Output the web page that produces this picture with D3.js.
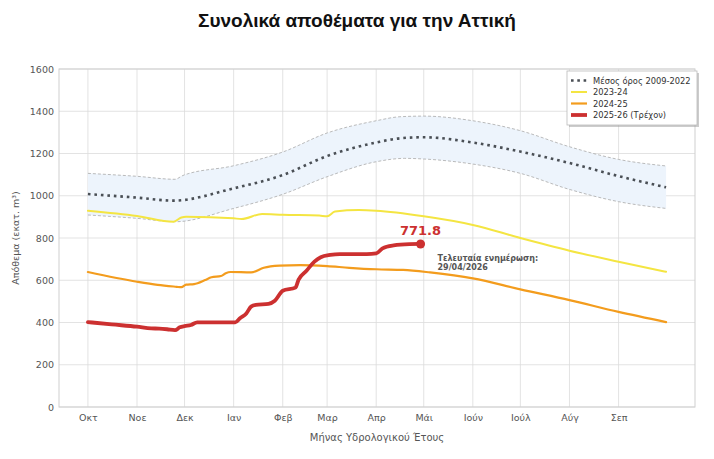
<!DOCTYPE html>
<html><head><meta charset="utf-8">
<script src="https://cdn.jsdelivr.net/npm/d3@7"></script>
<style>body{margin:0;background:#fff}svg{display:block}</style>
</head><body>
<svg id="c" width="714" height="459"></svg>
<script>
// Month ticks (day of hydrological year, starting 1 Oct)
const monthDays = [0,31,61,92,123,151,182,212,243,273,304,335];
const monthLabels = ["Οκτ","Νοε","Δεκ","Ιαν","Φεβ","Μαρ","Απρ","Μάι","Ιούν","Ιούλ","Αύγ","Σεπ"];
const yTicks = [0,200,400,600,800,1000,1200,1400,1600];

// Mean 2009-2022 and band
const meanDays = [0,31,54,92,123,151,182,197,212,243,273,304,335,365];
const meanVals = [1008,991,977,1035,1098,1188,1252,1272,1277,1252,1209,1155,1093,1040];
const upperDays = [0,31,55,60,92,123,151,182,197,212,243,273,304,335,365];
const upperVals = [1106,1092,1078,1096,1142,1207,1297,1355,1374,1377,1355,1308,1232,1172,1141];
const lowerDays = [0,31,55,92,123,151,182,200,212,243,273,304,335,365];
const lowerVals = [909,893,877,940,1007,1090,1161,1177,1174,1150,1106,1030,972,940];

// 2023-24
const y2324Days = [0,31,54,59,62,92,97,110,123,146,151,156,171,182,212,243,273,304,335,365];
const y2324Vals = [929,904,877,897,901,893,890,914,910,906,903,925,932,929,903,862,800,740,688,640];

// 2024-25
const y2425Days = [0,31,44,56,59,62,67,74,78,84,87,90,103,111,121,134,151,165,182,199,216,243,273,304,335,365];
const y2425Vals = [639,593,578,569,567,579,582,601,614,620,633,639,637,659,669,672,667,659,652,649,637,609,557,506,450,402];

// 2025-26 (current)
const y2526Days = [0,15,31,40,45,50,55,58,61,65,69,93,96,100,103,106,114,118,123,131,133,138,143,147,153,159,176,182,186,193,203,210];
const y2526Vals = [402,391,380,372,371,368,364,377,383,388,401,401,420,443,475,483,488,503,550,565,603,645,688,709,720,724,724,727,751,765,771,771.8];

const lastLabel = "771.8";
const lastUpdate = ["Τελευταία ενημέρωση:", "29/04/2026"];
const legendLabels = ["Μέσος όρος 2009-2022","2023-24","2024-25","2025-26 (Τρέχον)"];

const svg = d3.select("#c");
const font = "DejaVu Sans, sans-serif";
const L=59, R=695, T=69, B=407;
const x = d3.scaleLinear().domain([-18.25, 383.25]).range([L, R]);
const y = d3.scaleLinear().domain([0, 1600]).range([B, T]);

svg.append("rect").attr("width",714).attr("height",459).attr("fill","#fff");

// grid
const g = svg.append("g");
g.selectAll("line.v").data(monthDays).join("line")
  .attr("x1",d=>x(d)).attr("x2",d=>x(d)).attr("y1",T).attr("y2",B)
  .attr("stroke","#dcdcdc").attr("stroke-width",0.8);
g.selectAll("line.h").data(yTicks).join("line")
  .attr("y1",d=>y(d)).attr("y2",d=>y(d)).attr("x1",L).attr("x2",R)
  .attr("stroke","#dcdcdc").attr("stroke-width",0.8);

// axes via d3
const xAxis = d3.axisBottom(x).tickValues(monthDays).tickFormat((d,i)=>monthLabels[i]).tickSize(0).tickPadding(7);
const yAxis = d3.axisLeft(y).tickValues(yTicks).tickFormat(d3.format("d")).tickSize(0).tickPadding(5);
const gx = svg.append("g").attr("transform",`translate(0,${B})`).call(xAxis);
const gy = svg.append("g").attr("transform",`translate(${L},0)`).call(yAxis);
[gx,gy].forEach(a=>{a.select(".domain").remove();
  a.selectAll("text").attr("font-family",font).attr("font-size",9.5).attr("fill","#555");});

// band
const band = upperDays.map((d,i)=>({d, v:upperVals[i]}));
const lowPts = lowerDays.map((d,i)=>({d, v:lowerVals[i]}));
const upLine = d3.line().x(p=>x(p.d)).y(p=>y(p.v)).curve(d3.curveMonotoneX);
const upPath = upLine(band);
const lowRev = lowPts.slice().reverse();
const lowPath = d3.line().x(p=>x(p.d)).y(p=>y(p.v)).curve(d3.curveMonotoneX)(lowRev);
svg.append("path").attr("d", upPath + "L" + lowPath.slice(1) + "Z")
  .attr("fill","#edf4fc").attr("stroke","none");
svg.append("path").attr("d",upPath).attr("fill","none").attr("stroke","#aaa").attr("stroke-width",0.8).attr("stroke-dasharray","3,2");
svg.append("path").attr("d",d3.line().x(p=>x(p.d)).y(p=>y(p.v)).curve(d3.curveMonotoneX)(lowPts))
  .attr("fill","none").attr("stroke","#aaa").attr("stroke-width",0.8).attr("stroke-dasharray","3,2");

// mean
svg.append("path").attr("d", d3.line().x((d,i)=>x(d)).y((d,i)=>y(meanVals[i])).curve(d3.curveMonotoneX)(meanDays))
  .attr("fill","none").attr("stroke","#4a4f55").attr("stroke-width",2.6).attr("stroke-dasharray","2.6,3.9");

function series(days, vals, color, w){
  svg.append("path").attr("d", d3.line().x(d=>x(d)).y((d,i)=>y(vals[i])).curve(d3.curveMonotoneX)(days))
    .attr("fill","none").attr("stroke",color).attr("stroke-width",w).attr("stroke-linejoin","round").attr("stroke-linecap","round");
}
series(y2324Days, y2324Vals, "#f4e542", 2);
series(y2425Days, y2425Vals, "#f39c1d", 2.2);
series(y2526Days, y2526Vals, "#cc3030", 3.8);

// end marker
const ld = y2526Days[y2526Days.length-1], lv = y2526Vals[y2526Vals.length-1];
svg.append("circle").attr("cx",x(ld)).attr("cy",y(lv)).attr("r",4.5).attr("fill","#cc3030");
svg.append("text").attr("x",x(ld)).attr("y",y(lv)-9).attr("text-anchor","middle")
  .attr("font-family",font).attr("font-weight","bold").attr("font-size",13).attr("fill","#cc3030").text(lastLabel);
lastUpdate.forEach((t,i)=>svg.append("text").attr("x",x(ld)+17).attr("y",y(lv)+17+i*8.7)
  .attr("font-family",font).attr("font-weight","bold").attr("font-size",8).attr("fill","#555").text(t));

// frame
svg.append("rect").attr("x",L).attr("y",T).attr("width",R-L).attr("height",B-T)
  .attr("fill","none").attr("stroke","#cfcfcf").attr("stroke-width",1);

// legend
const lg = svg.append("g");
lg.append("rect").attr("x",569).attr("y",73).attr("width",130).attr("height",54).attr("fill","#999").attr("opacity",0.5);
lg.append("rect").attr("x",567).attr("y",71).attr("width",130).attr("height",54).attr("fill","#fff").attr("stroke","#bbb").attr("stroke-width",0.8);
const lstyles = [
  {c:"#4a4f55", w:2.6, dash:"2.6,3.7"},
  {c:"#f4e542", w:2, dash:null},
  {c:"#f39c1d", w:2.2, dash:null},
  {c:"#cc3030", w:3.8, dash:null}];
legendLabels.forEach((t,i)=>{
  const yy = 80.5 + i*11.5;
  const ln = lg.append("line").attr("x1",571).attr("x2",587).attr("y1",yy).attr("y2",yy)
    .attr("stroke",lstyles[i].c).attr("stroke-width",lstyles[i].w);
  if(lstyles[i].dash) ln.attr("stroke-dasharray",lstyles[i].dash);
  lg.append("text").attr("x",593).attr("y",yy+3).attr("font-family",font).attr("font-size",8.3).attr("fill","#333").text(t);
});

// titles
svg.append("text").attr("x",357).attr("y",27).attr("text-anchor","middle")
  .attr("font-family","Liberation Sans, Arial, sans-serif").attr("font-weight","bold").attr("font-size",19).attr("fill","#111")
  .text("Συνολικά αποθέματα για την Αττική");
svg.append("text").attr("x",(L+R)/2).attr("y",441).attr("text-anchor","middle")
  .attr("font-family",font).attr("font-size",10).attr("fill","#555").text("Μήνας Υδρολογικού Έτους");
svg.append("text").attr("transform",`translate(19,${(T+B)/2}) rotate(-90)`).attr("text-anchor","middle")
  .attr("font-family",font).attr("font-size",9.5).attr("fill","#555").text("Απόθεμα (εκατ. m³)");
</script>
</body></html>
